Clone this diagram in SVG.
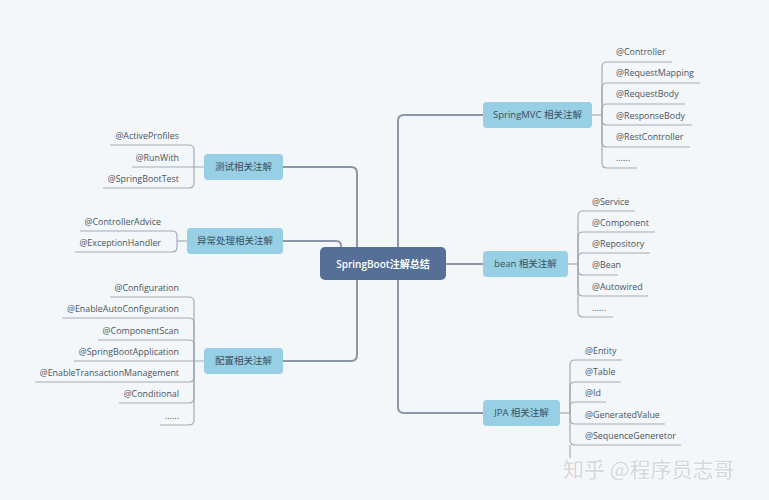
<svg xmlns="http://www.w3.org/2000/svg" width="769" height="500" viewBox="0 0 769 500">
<style>
.bg{fill:#f3f7fa}
.trunk{fill:none;stroke:#8c96a4;stroke-width:2;stroke-linecap:round}
.br{fill:none;stroke:#a3abb5;stroke-width:1.2}
.root{fill:#566f96}
.sub{fill:#97d0e4}
.rt{font-family:"Open Sans","Noto Sans CJK SC",sans-serif;font-size:10px;font-weight:600;fill:#ffffff;text-anchor:middle}
.st{font-family:"Open Sans","Noto Sans CJK SC",sans-serif;font-size:9.5px;fill:#3c4d5e;text-anchor:middle}
.lt{font-family:"Open Sans",sans-serif;font-size:8.9px;fill:#4a5461}
.le{font-family:"Open Sans",sans-serif;font-size:8.9px;fill:#4a5461;text-anchor:end}
.wm{font-family:"Noto Sans CJK SC",sans-serif;font-size:21px;fill:#d4d7db;stroke:#ffffff;stroke-width:1;paint-order:stroke}
</style>
<rect class="bg" x="0" y="0" width="769" height="500"/>
<g id="connectors">
  <path class="trunk" d="M483 115 H404 Q398 115 398 121 V407 Q398 413 404 413 H483"/>
  <path class="trunk" d="M446 264 H483"/>
  <path class="trunk" d="M283 167 H351 Q357 167 357 173 V355 Q357 361 351 361 H283"/>
  <path class="trunk" d="M283 241 H336 Q341 241 341 246 V252"/>
  <path class="br" d="M592 115 H602"/>
  <path class="br" d="M602 115 V67 Q602 62 607 62 H672"/>
  <path class="br" d="M602 115 V88 Q602 83 607 83 H700"/>
  <path class="br" d="M602 115 V109 Q602 104 607 104 H685"/>
  <path class="br" d="M602 115 V120 Q602 125 607 125 H692"/>
  <path class="br" d="M602 115 V142 Q602 147 607 147 H690"/>
  <path class="br" d="M602 115 V163 Q602 168 607 168 H637"/>
  <path class="br" d="M568 264 H578"/>
  <path class="br" d="M578 264 V216 Q578 211 583 211 H635"/>
  <path class="br" d="M578 264 V237 Q578 232 583 232 H655"/>
  <path class="br" d="M578 264 V258 Q578 253 583 253 H650"/>
  <path class="br" d="M578 264 V270 Q578 275 583 275 H618"/>
  <path class="br" d="M578 264 V291 Q578 296 583 296 H648"/>
  <path class="br" d="M578 264 V312 Q578 317 583 317 H613"/>
  <path class="br" d="M560 413 H570"/>
  <path class="br" d="M570 413 V365 Q570 360 575 360 H622"/>
  <path class="br" d="M570 413 V387 Q570 382 575 382 H621"/>
  <path class="br" d="M570 413 V407 Q570 402 575 402 H606"/>
  <path class="br" d="M570 413 V419 Q570 424 575 424 H665"/>
  <path class="br" d="M570 413 V440 Q570 445 575 445 H681"/>
  <path class="br" d="M570 445 V458"/>
  <path class="br" d="M204 167 H132"/>
  <path class="br" d="M194 167 V150 Q194 145 189 145 H110"/>
  <path class="br" d="M194 167 V183 Q194 188 189 188 H103"/>
  <path class="br" d="M187 241 H177"/>
  <path class="br" d="M177 241 V236 Q177 231 172 231 H80"/>
  <path class="br" d="M177 241 V247 Q177 252 172 252 H75"/>
  <path class="br" d="M204 361 H74"/>
  <path class="br" d="M194 361 V302 Q194 297 189 297 H110"/>
  <path class="br" d="M194 361 V323 Q194 318 189 318 H62"/>
  <path class="br" d="M194 361 V345 Q194 340 189 340 H98"/>
  <path class="br" d="M194 361 V377 Q194 382 189 382 H35"/>
  <path class="br" d="M194 361 V398 Q194 403 189 403 H119"/>
  <path class="br" d="M194 361 V420 Q194 425 189 425 H160"/>
</g>
<g id="root">
  <rect class="root" x="320" y="247" width="126" height="33" rx="5"/>
  <text class="rt" x="383" y="267.5">SpringBoot注解总结</text>
</g>
<g id="springmvc">
  <rect class="sub" x="483" y="102" width="109" height="26" rx="4"/>
  <text class="st" x="537.5" y="118.3">SpringMVC 相关注解</text>
  <text class="lt" x="616" y="55">@Controller</text>
  <text class="lt" x="616" y="76">@RequestMapping</text>
  <text class="lt" x="616" y="97">@RequestBody</text>
  <text class="lt" x="616" y="118.5">@ResponseBody</text>
  <text class="lt" x="616" y="140">@RestController</text>
  <text class="lt" x="616" y="161">......</text>
</g>
<g id="bean">
  <rect class="sub" x="483" y="251" width="85" height="26" rx="4"/>
  <text class="st" x="525.5" y="267.3">bean 相关注解</text>
  <text class="lt" x="592" y="204.5">@Service</text>
  <text class="lt" x="592" y="225.5">@Component</text>
  <text class="lt" x="592" y="246.5">@Repository</text>
  <text class="lt" x="592" y="268">@Bean</text>
  <text class="lt" x="592" y="289.5">@Autowired</text>
  <text class="lt" x="592" y="310.5">......</text>
</g>
<g id="jpa">
  <rect class="sub" x="483" y="400" width="77" height="26" rx="4"/>
  <text class="st" x="521.5" y="416.3">JPA 相关注解</text>
  <text class="lt" x="585" y="353.5">@Entity</text>
  <text class="lt" x="585" y="375">@Table</text>
  <text class="lt" x="585" y="396">@Id</text>
  <text class="lt" x="585" y="417.5">@GeneratedValue</text>
  <text class="lt" x="585" y="438.5">@SequenceGeneretor</text>
</g>
<g id="test">
  <rect class="sub" x="204" y="154" width="79" height="26" rx="4"/>
  <text class="st" x="243.5" y="170.3">测试相关注解</text>
  <text class="le" x="179" y="139">@ActiveProfiles</text>
  <text class="le" x="179" y="160.5">@RunWith</text>
  <text class="le" x="179" y="182">@SpringBootTest</text>
</g>
<g id="exception">
  <rect class="sub" x="187" y="228" width="96" height="26" rx="4"/>
  <text class="st" x="235" y="244.3">异常处理相关注解</text>
  <text class="le" x="161" y="224.5">@ControllerAdvice</text>
  <text class="le" x="161" y="245.5">@ExceptionHandler</text>
</g>
<g id="config">
  <rect class="sub" x="204" y="348" width="79" height="26" rx="4"/>
  <text class="st" x="243.5" y="364.3">配置相关注解</text>
  <text class="le" x="179" y="290.5">@Configuration</text>
  <text class="le" x="179" y="312">@EnableAutoConfiguration</text>
  <text class="le" x="179" y="333.5">@ComponentScan</text>
  <text class="le" x="179" y="354.5">@SpringBootApplication</text>
  <text class="le" x="179" y="376">@EnableTransactionManagement</text>
  <text class="le" x="179" y="397">@Conditional</text>
  <text class="le" x="179" y="418.5">......</text>
</g>
<text class="wm" x="563" y="477">知乎 @程序员志哥</text>
</svg>
